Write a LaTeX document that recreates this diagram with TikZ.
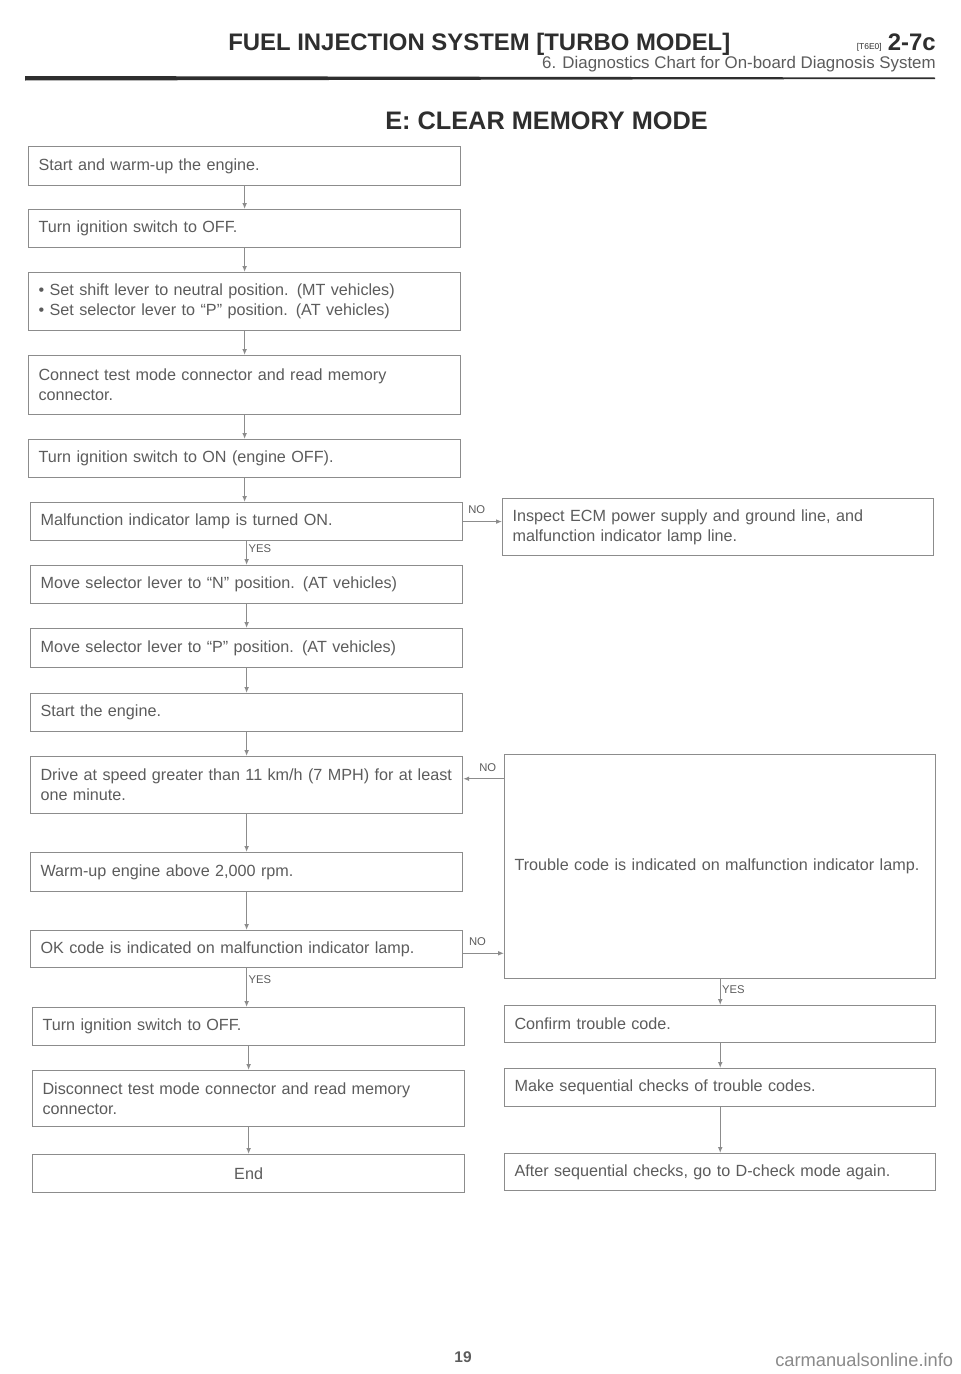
\documentclass[tikz,border=0pt]{standalone}
\usepackage{fontspec}
\setmainfont{Liberation Sans}
\usetikzlibrary{arrows.meta}
\definecolor{boxgray}{HTML}{8C8C8C}
\definecolor{inkgray}{HTML}{5C5C5C}
\definecolor{headink}{HTML}{2E2E2E}
\definecolor{markgray}{HTML}{8A8A8A}

\begin{document}
\begin{tikzpicture}[x=0.025cm, y=-0.025cm,
  stepbox/.style={rectangle, draw=boxgray, line width=0.8pt, anchor=north west,
    minimum width=10.8cm, text width=10.3cm, inner xsep=0.25cm, align=left,
    text=inkgray, font=\fontsize{11.5}{14.2}\selectfont},
  flow/.style={draw=boxgray, line width=0.8pt, -{Latex[length=1.5mm,width=1.2mm]}},
  answer/.style={font=\fontsize{8}{9}\selectfont, text=inkgray, inner sep=1pt}]
  \fill[white] (0,0) rectangle (960,1374);
  \useasboundingbox (0,0) rectangle (960,1374);

  % Header
  \node (title) at (228,50) [anchor=base west, inner sep=0pt, text=headink, font=\bfseries\fontsize{17}{20}\selectfont] {FUEL INJECTION SYSTEM [TURBO MODEL]};
  \node (code) at (882,49) [anchor=base east, inner sep=0pt, text=headink, font=\fontsize{6}{7}\selectfont] {[T6E0]};
  \node (pageno) at (936,50) [anchor=base east, inner sep=0pt, text=headink, font=\bfseries\fontsize{17}{20}\selectfont] {2-7c};
  \node (sub) at (936,68) [anchor=base east, inner sep=0pt, text=inkgray, font=\fontsize{12}{13}\selectfont] {6. Diagnostics Chart for On-board Diagnosis System};
  \fill[headink] (25,76) -- (935,77.5) -- (935,79) -- (25,80.5) -- cycle;
  \node (mode) at (385,129) [anchor=base west, inner sep=0pt, text=headink, font=\bfseries\fontsize{18}{21}\selectfont] {E: CLEAR MEMORY MODE};

  % Nodes, left column
  \node (start) at (28,146) [stepbox, minimum height=0.975cm] {Start and warm-up the engine.};
  \node (ignoff) at (28,209) [stepbox, minimum height=0.95cm] {Turn ignition switch to OFF.};
  \node (shift) at (28,272) [stepbox, minimum height=1.45cm] {\textbullet\ Set shift lever to neutral position. (MT vehicles)\\\textbullet\ Set selector lever to ``P'' position. (AT vehicles)};
  \node (conn) at (28,355) [stepbox, minimum height=1.475cm] {Connect test mode connector and read memory\\connector.};
  \node (ignon) at (28,439) [stepbox, minimum height=0.95cm] {Turn ignition switch to ON (engine OFF).};
  \node (mil) at (30,502) [stepbox, minimum height=0.95cm] {Malfunction indicator lamp is turned ON.};
  \node (nsel) at (30,565) [stepbox, minimum height=0.95cm] {Move selector lever to ``N'' position. (AT vehicles)};
  \node (psel) at (30,628) [stepbox, minimum height=0.975cm] {Move selector lever to ``P'' position. (AT vehicles)};
  \node (eng) at (30,693) [stepbox, minimum height=0.95cm] {Start the engine.};
  \node (drive) at (30,756) [stepbox, minimum height=1.425cm] {Drive at speed greater than 11 km/h (7 MPH) for at least\\one minute.};
  \node (warm) at (30,852) [stepbox, minimum height=0.975cm] {Warm-up engine above 2,000 rpm.};
  \node (okc) at (30,930) [stepbox, minimum height=0.925cm] {OK code is indicated on malfunction indicator lamp.};
  \node (offb) at (32,1007) [stepbox, minimum height=0.95cm] {Turn ignition switch to OFF.};
  \node (disc) at (32,1070) [stepbox, minimum height=1.4cm] {Disconnect test mode connector and read memory\\connector.};
  \node (fin) at (32,1154) [stepbox, minimum height=0.95cm, align=center] {End};

  % Nodes, right column
  \node (insp) at (502,498) [stepbox, minimum height=1.425cm, minimum width=10.78cm, text width=10.28cm] {Inspect ECM power supply and ground line, and\\malfunction indicator lamp line.};
  \node (trbl) at (504,754) [stepbox, minimum height=5.6cm, minimum width=10.78cm, text width=10.28cm] {Trouble code is indicated on malfunction indicator lamp.};
  \node (conf) at (504,1005) [stepbox, minimum height=0.925cm, minimum width=10.78cm, text width=10.28cm] {Confirm trouble code.};
  \node (seq) at (504,1068) [stepbox, minimum height=0.95cm, minimum width=10.78cm, text width=10.28cm] {Make sequential checks of trouble codes.};
  \node (aftr) at (504,1153) [stepbox, minimum height=0.925cm, minimum width=10.78cm, text width=10.28cm] {After sequential checks, go to D-check mode again.};

  % Edges
  \foreach \a/\b in {start/ignoff, ignoff/shift, shift/conn, conn/ignon, ignon/mil,
                     nsel/psel, psel/eng, eng/drive, drive/warm, warm/okc,
                     offb/disc, disc/fin, conf/seq, seq/aftr}
    \draw[flow] (\a.south) -- (\a.south |- \b.north);
  \draw[flow] (mil.south) -- (mil.south |- nsel.north) node (yesA) [answer, right, pos=0.3] {YES};
  \draw[flow] (okc.south) -- (okc.south |- offb.north) node (yesB) [answer, right, pos=0.3] {YES};
  \draw[flow] (trbl.south) -- (trbl.south |- conf.north) node (yesC) [answer, right, pos=0.4] {YES};
  \draw[flow] (mil.east) -- (mil.east -| insp.west) node (noA) [answer, above=4pt, pos=0.35] {NO};
  \draw[flow] ([yshift=4.5pt]drive.east -| trbl.west) -- ([yshift=4.5pt]drive.east) node (noB) [answer, above=4pt, pos=0.4] {NO};
  \draw[flow] ([yshift=-3pt]okc.east) -- ([yshift=-3pt]okc.east -| trbl.west) node (noC) [answer, above=4pt, pos=0.35] {NO};

  % Footer
  \node (folio) at (463,1362) [anchor=base, inner sep=0pt, text=inkgray, font=\bfseries\fontsize{11}{12}\selectfont] {19};
  \node (site) at (775,1366) [anchor=base west, inner sep=0pt, text=markgray, font=\fontsize{13}{15}\selectfont] {carmanualsonline.info};
\end{tikzpicture}
\end{document}
